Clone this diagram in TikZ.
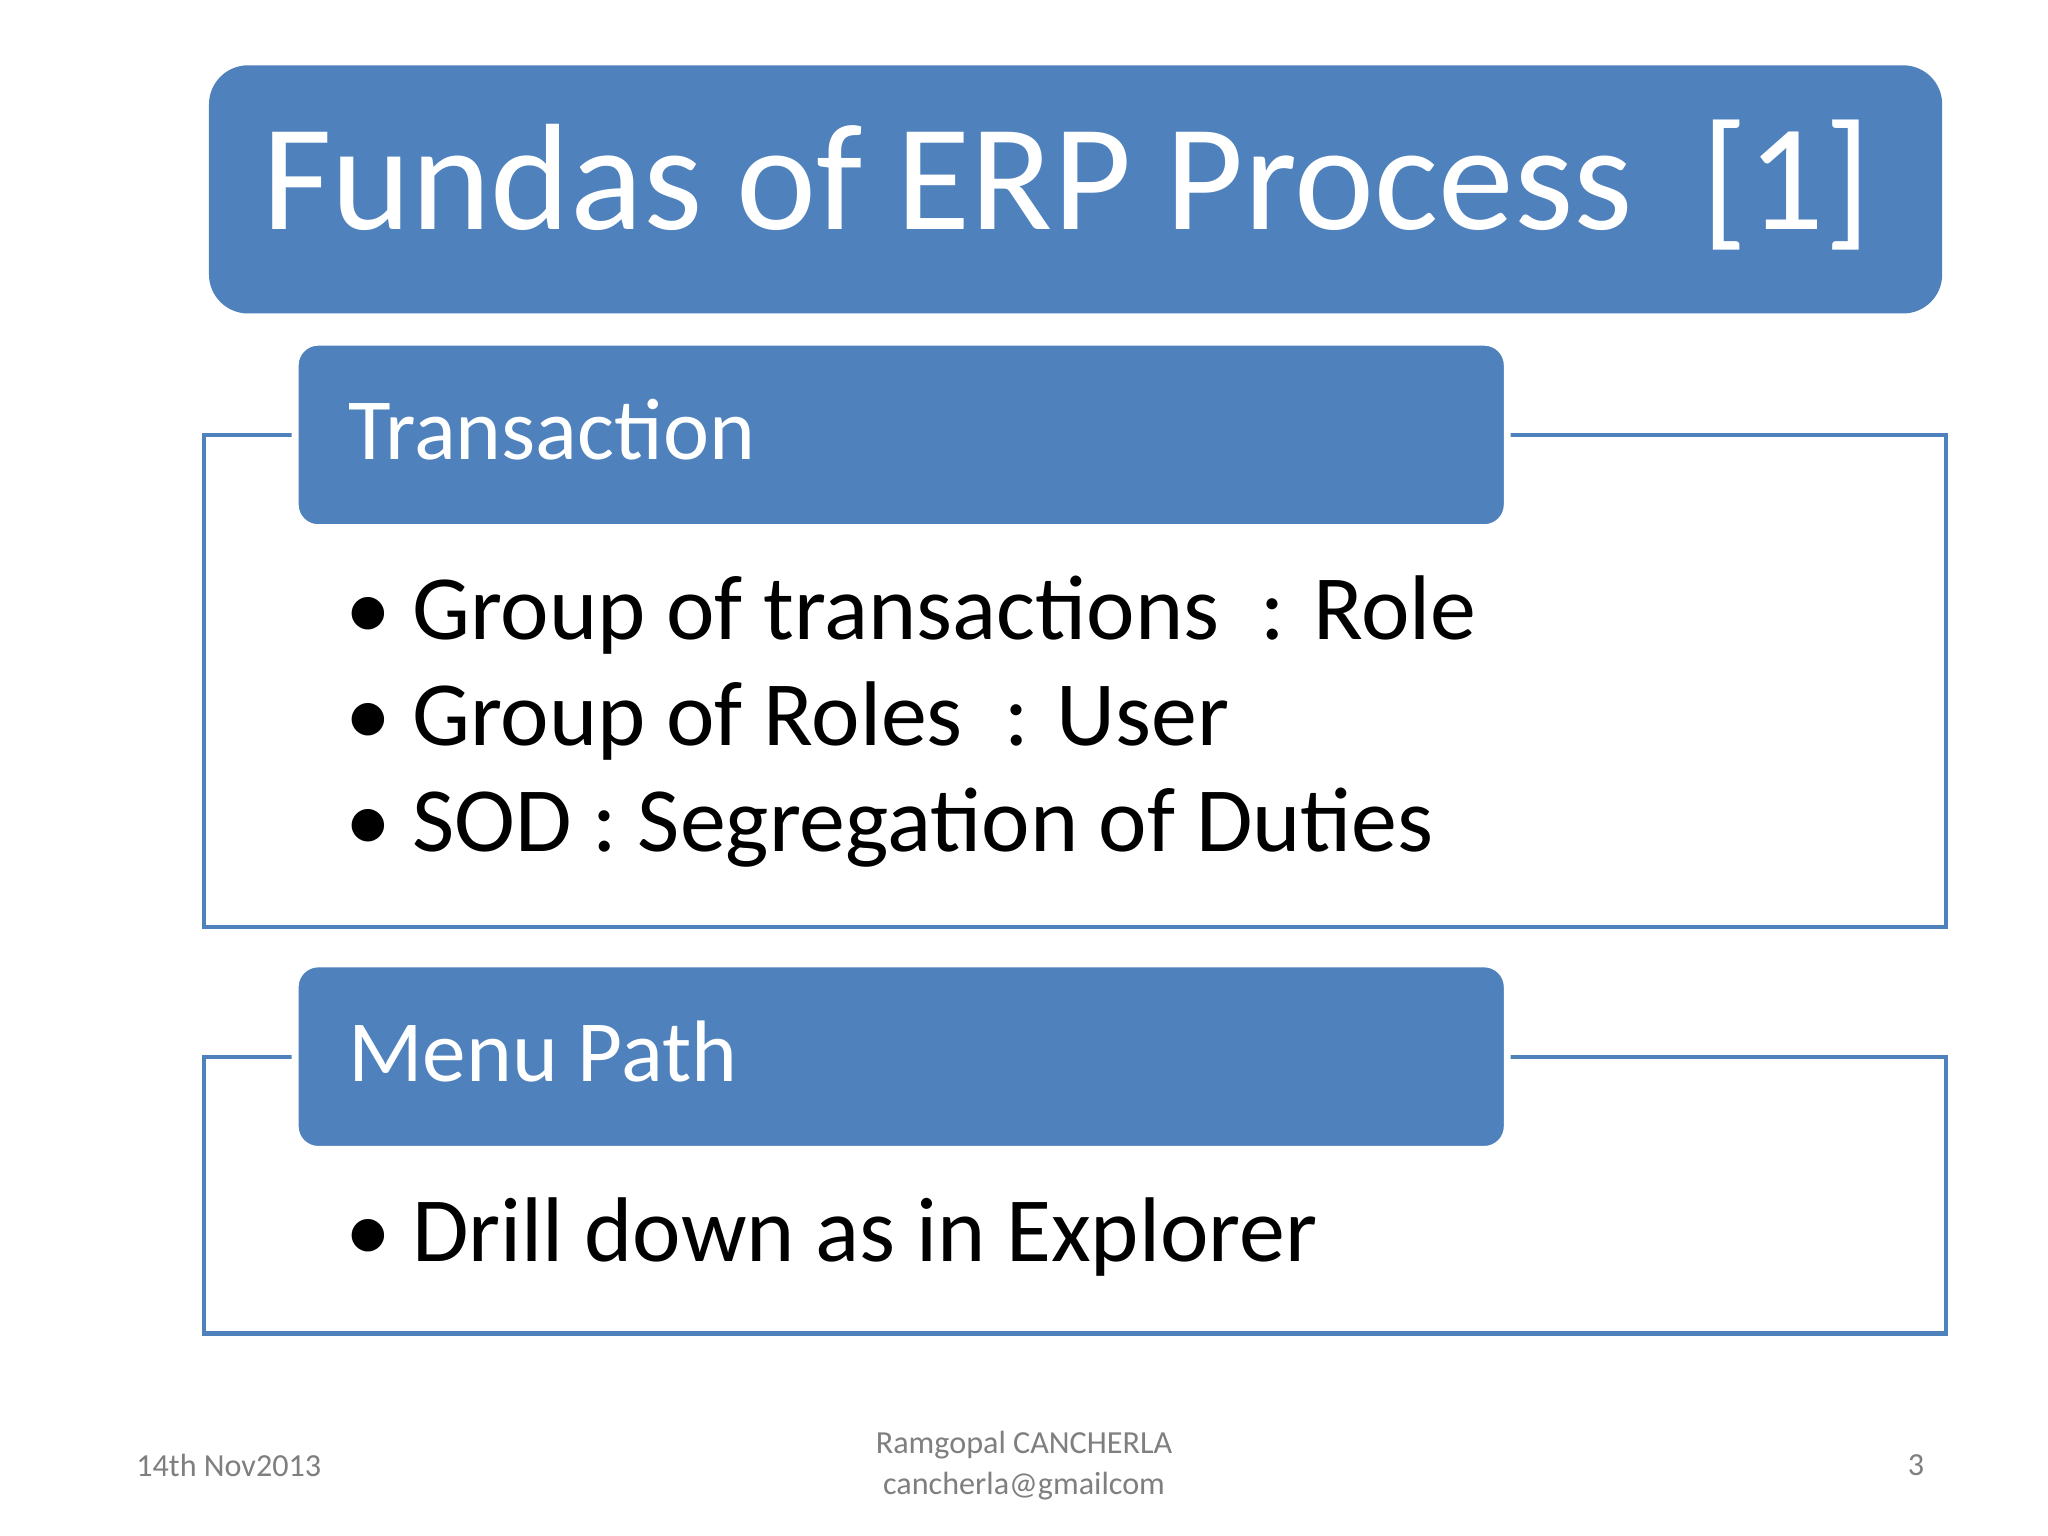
\documentclass[tikz,border=0pt]{standalone}
\usepackage{fontspec}
\setmainfont{Carlito}
\definecolor{blu}{HTML}{4F81BD}
\definecolor{gry}{HTML}{7F7F7F}
\begin{document}
\begin{tikzpicture}[x=0.01cm,y=-0.01cm,
  frame/.style={draw=blu,line width=0.9pt},
  hdr/.style={fill=blu,draw=white,line width=1.5pt,rounded corners=5pt},
  bul/.style={anchor=base west,font=\fontsize{20}{24}\selectfont,inner sep=0},
  foot/.style={text=gry,font=\fontsize{7}{9}\selectfont,align=center}]
\useasboundingbox[fill=white] (0,0) rectangle (1568,1176);
\fill[blu,rounded corners=8.5pt] (160,50) rectangle (1487,240);
\node[anchor=base west,text=white,inner sep=0,font=\fontsize{33}{36}\selectfont] (title) at (200,176) {Fundas of ERP Process\ \ [1]};
\draw[frame] (156,333) rectangle (1490,710);
\draw[hdr] (226,262) rectangle (1154,404);
\node[anchor=base west,text=white,inner sep=0,font=\fontsize{19}{22}\selectfont] (h1) at (266,352) {Transaction};
\node[bul] (b1) at (264,490) {\textbullet\ Group of transactions\ \ : Role};
\node[bul] (b2) at (264,571) {\textbullet\ Group of Roles\ \ : User};
\node[bul] (b3) at (264,652) {\textbullet\ SOD : Segregation of Duties};
\draw[frame] (156,809) rectangle (1490,1021);
\draw[hdr] (226,738) rectangle (1154,880);
\node[anchor=base west,text=white,inner sep=0,font=\fontsize{19}{22}\selectfont] (h2) at (266,828) {Menu Path};
\node[bul] (b4) at (264,966) {\textbullet\ Drill down as in Explorer};
\node[foot,anchor=west] (date) at (92,1122) {14th Nov2013};
\node[foot] (auth) at (784,1122) {Ramgopal CANCHERLA\\cancherla@gmailcom};
\node[foot] (pg) at (1467,1122) {3};
\end{tikzpicture}
\end{document}
